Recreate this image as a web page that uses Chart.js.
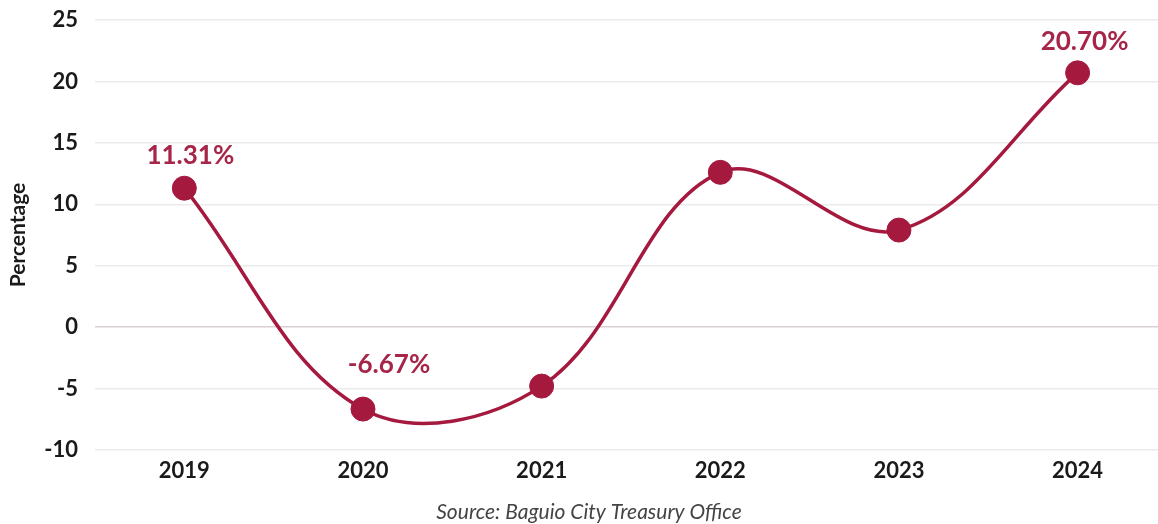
<!DOCTYPE html>
<html>
<head>
<meta charset="utf-8">
<script src="https://cdn.jsdelivr.net/npm/chart.js@4.4.0/dist/chart.umd.min.js"></script>
<style>
html,body{margin:0;padding:0;background:#fff;}
#wrap{width:1158px;height:524px;position:relative;}
</style>
</head>
<body>
<div id="wrap"><canvas id="c" width="1158" height="524"></canvas></div>
<script>
const years = ['2019', '2020', '2021', '2022', '2023', '2024'];
const growth = [11.31, -6.67, -4.8, 12.6, 7.9, 20.70];
const showLabel = [true, true, false, false, false, true];
const yTicks = [-10, -5, 0, 5, 10, 15, 20, 25];
const sourceText = 'Source: Baguio City Treasury Office';

const RED = '#a5193f';
const labelOffsets = {0: [6, -33], 1: [26, -44], 5: [7, -31]};

const valueLabels = {
  id: 'valueLabels',
  afterDatasetsDraw(chart) {
    const meta = chart.getDatasetMeta(0);
    const ctx = chart.ctx;
    ctx.save();
    ctx.font = 'bold 26px Lato';
    ctx.fillStyle = '#a62548';
    ctx.textAlign = 'center';
    ctx.textBaseline = 'middle';
    meta.data.forEach((el, i) => {
      if (!showLabel[i]) return;
      const off = labelOffsets[i] || [0, -32];
      ctx.fillText(growth[i].toFixed(2) + '%', el.x + off[0], el.y + off[1]);
    });
    ctx.restore();
  }
};

const sourcePlugin = {
  id: 'sourcePlugin',
  afterDraw(chart) {
    const ctx = chart.ctx;
    ctx.save();
    ctx.font = 'italic 21px Lato';
    ctx.fillStyle = '#444444';
    ctx.textAlign = 'center';
    ctx.textBaseline = 'middle';
    ctx.fillText(sourceText, 589, 512);
    ctx.restore();
  }
};

new Chart(document.getElementById('c'), {
  type: 'line',
  data: {
    datasets: [{
      data: growth.map((v, i) => ({x: i, y: v})),
      borderColor: RED,
      backgroundColor: RED,
      borderWidth: 3.5,
      tension: 0.37,
      pointRadius: 12,
      pointHoverRadius: 12,
      pointBackgroundColor: RED,
      pointBorderColor: RED,
      pointBorderWidth: 1,
      clip: false
    }]
  },
  options: {
    responsive: false,
    animation: false,
    events: [],
    layout: {autoPadding: false, padding: {top: 20, right: 0, bottom: 36, left: 0}},
    plugins: {legend: {display: false}, tooltip: {enabled: false}},
    scales: {
      x: {
        type: 'linear',
        min: -0.5,
        max: 5.45,
        afterBuildTicks(scale) { scale.ticks = years.map((_, i) => ({value: i})); },
        afterFit(scale) { scale.height = 38; },
        border: {display: false},
        grid: {display: false, drawTicks: false},
        ticks: {
          padding: 8,
          maxRotation: 0,
          autoSkip: false,
          color: '#1a1a1a',
          font: {family: 'Lato', weight: 'bold', size: 22},
          callback: (v) => years[v]
        }
      },
      y: {
        min: -10,
        max: 25,
        afterBuildTicks(scale) { scale.ticks = yTicks.map(v => ({value: v})); },
        afterFit(scale) { scale.width = 95; },
        border: {display: false},
        grid: {
          color: (c) => c.tick && c.tick.value === 0 ? '#d9d1d1' : '#ebebeb',
          lineWidth: 1.5,
          drawTicks: false
        },
        ticks: {
          padding: 17,
          color: '#1a1a1a',
          font: {family: 'Lato', weight: 'bold', size: 22, lineHeight: 0.2}
        },
        title: {
          display: true,
          text: 'Percentage',
          color: '#1a1a1a',
          font: {family: 'Lato', weight: 'bold', size: 21},
          padding: {top: 6, bottom: 0}
        }
      }
    }
  },
  plugins: [valueLabels, sourcePlugin]
});
</script>
</body>
</html>
